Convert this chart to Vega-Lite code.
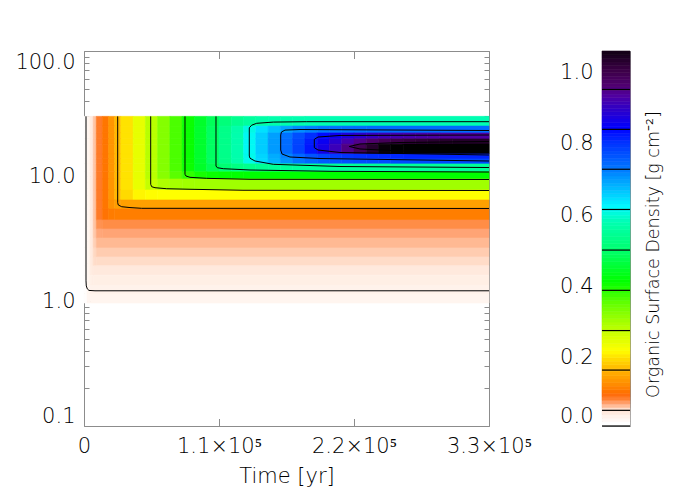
{
"$schema": "https://vega.github.io/schema/vega-lite/v6.json",
"background": "white",
"padding": {"left": 14, "top": 50, "right": 5, "bottom": 5},
"config": {
 "view": {"stroke": "#8c8c8c", "strokeWidth": 1},
 "font": "DejaVu Sans",
 "axis": {"labelFont": "DejaVu Sans", "labelFontSize": 21, "labelFontWeight": 200, "labelColor": "#000000", "titleFont": "DejaVu Sans", "titleFontSize": 21, "titleFontWeight": 200, "titleColor": "#000000", "tickColor": "#8c8c8c", "tickWidth": 1, "grid": false}
},
"datasets": {
 "cols": [
  {"c":1,"t0":0,"t1":2500},{"c":2,"t0":2500,"t1":5000},{"c":3,"t0":5000,"t1":7500},{"c":4,"t0":7500,"t1":10000},{"c":5,"t0":10000,"t1":15000},{"c":6,"t0":15000,"t1":20000},{"c":7,"t0":20000,"t1":25000},{"c":8,"t0":25000,"t1":30000},{"c":9,"t0":30000,"t1":40000},{"c":10,"t0":40000,"t1":50000},{"c":11,"t0":50000,"t1":60000},{"c":12,"t0":60000,"t1":70000},{"c":13,"t0":70000,"t1":80000},{"c":14,"t0":80000,"t1":90000},{"c":15,"t0":90000,"t1":100000},{"c":16,"t0":100000,"t1":110000},{"c":17,"t0":110000,"t1":120000},{"c":18,"t0":120000,"t1":130000},{"c":19,"t0":130000,"t1":140000},{"c":20,"t0":140000,"t1":150000},{"c":21,"t0":150000,"t1":160000},{"c":22,"t0":160000,"t1":170000},{"c":23,"t0":170000,"t1":180000},{"c":24,"t0":180000,"t1":190000},{"c":25,"t0":190000,"t1":200000},{"c":26,"t0":200000,"t1":210000},{"c":27,"t0":210000,"t1":220000},{"c":28,"t0":220000,"t1":230000},{"c":29,"t0":230000,"t1":240000},{"c":30,"t0":240000,"t1":250000},{"c":31,"t0":250000,"t1":260000},{"c":32,"t0":260000,"t1":270000},{"c":33,"t0":270000,"t1":280000},{"c":34,"t0":280000,"t1":290000},{"c":35,"t0":290000,"t1":300000},{"c":36,"t0":300000,"t1":310000},{"c":37,"t0":310000,"t1":320000},{"c":38,"t0":320000,"t1":330000},
  {"c":103,"t0":5000,"t1":330000},{"c":104,"t0":7500,"t1":330000},{"c":105,"t0":10000,"t1":330000},{"c":106,"t0":15000,"t1":330000},{"c":108,"t0":25000,"t1":330000},{"c":109,"t0":30000,"t1":330000},{"c":112,"t0":60000,"t1":330000},{"c":115,"t0":90000,"t1":330000},{"c":119,"t0":130000,"t1":330000},{"c":123,"t0":170000,"t1":330000},{"c":124,"t0":180000,"t1":330000},{"c":129,"t0":230000,"t1":330000},{"c":130,"t0":240000,"t1":330000},{"c":131,"t0":250000,"t1":330000},{"c":132,"t0":260000,"t1":330000},{"c":135,"t0":290000,"t1":330000},{"c":136,"t0":300000,"t1":330000}
 ],
 "rows": [
  {"w":"a","r0":25.1,"r1":30},{"w":"b","r0":22.1,"r1":25.1},{"w":"c","r0":19.8,"r1":22.1},{"w":"d","r0":18.0,"r1":19.8},{"w":"e","r0":15.0,"r1":18.0},{"w":"f","r0":13.7,"r1":15.0},{"w":"g","r0":12.5,"r1":13.7},{"w":"h","r0":10.8,"r1":12.5},{"w":"i","r0":9.46,"r1":10.8},{"w":"j","r0":7.73,"r1":9.46},{"w":"k","r0":6.43,"r1":7.73},{"w":"l","r0":5.45,"r1":6.43},{"w":"m","r0":4.45,"r1":5.45},{"w":"n","r0":3.77,"r1":4.45},{"w":"o","r0":3.19,"r1":3.77},{"w":"p","r0":2.66,"r1":3.19},{"w":"q","r0":2.25,"r1":2.66},{"w":"r","r0":1.91,"r1":2.25},{"w":"s","r0":1.61,"r1":1.91},{"w":"t","r0":1.34,"r1":1.61},{"w":"u","r0":1.14,"r1":1.34},{"w":"v","r0":0.964,"r1":1.14}
 ],
 "cells": [
  {"c":1,"w":"a","v":0.012},{"c":2,"w":"a","v":0.025},{"c":3,"w":"a","v":0.04},{"c":4,"w":"a","v":0.058},{"c":5,"w":"a","v":0.082},{"c":6,"w":"a","v":0.102},{"c":7,"w":"a","v":0.13},{"c":8,"w":"a","v":0.165},{"c":9,"w":"a","v":0.196},{"c":10,"w":"a","v":0.238},{"c":11,"w":"a","v":0.28},{"c":12,"w":"a","v":0.322},{"c":13,"w":"a","v":0.363},{"c":14,"w":"a","v":0.404},{"c":15,"w":"a","v":0.444},{"c":16,"w":"a","v":0.481},{"c":17,"w":"a","v":0.512},{"c":18,"w":"a","v":0.536},{"c":19,"w":"a","v":0.553},{"c":20,"w":"a","v":0.563},{"c":21,"w":"a","v":0.569},{"c":22,"w":"a","v":0.572},{"c":23,"w":"a","v":0.574},{"c":124,"w":"a","v":0.576},
  {"c":1,"w":"b","v":0.012},{"c":2,"w":"b","v":0.025},{"c":3,"w":"b","v":0.04},{"c":4,"w":"b","v":0.058},{"c":5,"w":"b","v":0.082},{"c":6,"w":"b","v":0.102},{"c":7,"w":"b","v":0.13},{"c":8,"w":"b","v":0.165},{"c":9,"w":"b","v":0.196},{"c":10,"w":"b","v":0.238},{"c":11,"w":"b","v":0.28},{"c":12,"w":"b","v":0.322},{"c":13,"w":"b","v":0.363},{"c":14,"w":"b","v":0.405},{"c":15,"w":"b","v":0.447},{"c":16,"w":"b","v":0.488},{"c":17,"w":"b","v":0.528},{"c":18,"w":"b","v":0.568},{"c":19,"w":"b","v":0.605},{"c":20,"w":"b","v":0.639},{"c":21,"w":"b","v":0.667},{"c":22,"w":"b","v":0.69},{"c":23,"w":"b","v":0.707},{"c":24,"w":"b","v":0.718},{"c":25,"w":"b","v":0.726},{"c":26,"w":"b","v":0.731},{"c":27,"w":"b","v":0.734},{"c":28,"w":"b","v":0.736},{"c":129,"w":"b","v":0.738},
  {"c":1,"w":"c","v":0.012},{"c":2,"w":"c","v":0.025},{"c":3,"w":"c","v":0.04},{"c":4,"w":"c","v":0.058},{"c":5,"w":"c","v":0.082},{"c":6,"w":"c","v":0.102},{"c":7,"w":"c","v":0.13},{"c":8,"w":"c","v":0.165},{"c":9,"w":"c","v":0.196},{"c":10,"w":"c","v":0.238},{"c":11,"w":"c","v":0.28},{"c":12,"w":"c","v":0.322},{"c":13,"w":"c","v":0.363},{"c":14,"w":"c","v":0.405},{"c":15,"w":"c","v":0.447},{"c":16,"w":"c","v":0.489},{"c":17,"w":"c","v":0.53},{"c":18,"w":"c","v":0.572},{"c":19,"w":"c","v":0.613},{"c":20,"w":"c","v":0.654},{"c":21,"w":"c","v":0.693},{"c":22,"w":"c","v":0.732},{"c":23,"w":"c","v":0.769},{"c":24,"w":"c","v":0.801},{"c":25,"w":"c","v":0.831},{"c":26,"w":"c","v":0.856},{"c":27,"w":"c","v":0.876},{"c":28,"w":"c","v":0.891},{"c":29,"w":"c","v":0.902},{"c":30,"w":"c","v":0.911},{"c":31,"w":"c","v":0.916},{"c":32,"w":"c","v":0.92},{"c":33,"w":"c","v":0.923},{"c":34,"w":"c","v":0.925},{"c":135,"w":"c","v":0.928},
  {"c":1,"w":"d","v":0.012},{"c":2,"w":"d","v":0.025},{"c":3,"w":"d","v":0.04},{"c":4,"w":"d","v":0.058},{"c":5,"w":"d","v":0.082},{"c":6,"w":"d","v":0.102},{"c":7,"w":"d","v":0.13},{"c":8,"w":"d","v":0.165},{"c":9,"w":"d","v":0.196},{"c":10,"w":"d","v":0.238},{"c":11,"w":"d","v":0.28},{"c":12,"w":"d","v":0.322},{"c":13,"w":"d","v":0.363},{"c":14,"w":"d","v":0.405},{"c":15,"w":"d","v":0.447},{"c":16,"w":"d","v":0.489},{"c":17,"w":"d","v":0.53},{"c":18,"w":"d","v":0.572},{"c":19,"w":"d","v":0.614},{"c":20,"w":"d","v":0.655},{"c":21,"w":"d","v":0.696},{"c":22,"w":"d","v":0.737},{"c":23,"w":"d","v":0.777},{"c":24,"w":"d","v":0.815},{"c":25,"w":"d","v":0.851},{"c":26,"w":"d","v":0.886},{"c":27,"w":"d","v":0.917},{"c":28,"w":"d","v":0.943},{"c":29,"w":"d","v":0.966},{"c":30,"w":"d","v":0.984},{"c":31,"w":"d","v":0.999},{"c":32,"w":"d","v":1.01},{"c":33,"w":"d","v":1.018},{"c":34,"w":"d","v":1.024},{"c":35,"w":"d","v":1.028},{"c":136,"w":"d","v":1.033},
  {"c":1,"w":"e","v":0.012},{"c":2,"w":"e","v":0.025},{"c":3,"w":"e","v":0.04},{"c":4,"w":"e","v":0.058},{"c":5,"w":"e","v":0.082},{"c":6,"w":"e","v":0.102},{"c":7,"w":"e","v":0.13},{"c":8,"w":"e","v":0.165},{"c":9,"w":"e","v":0.196},{"c":10,"w":"e","v":0.238},{"c":11,"w":"e","v":0.28},{"c":12,"w":"e","v":0.322},{"c":13,"w":"e","v":0.363},{"c":14,"w":"e","v":0.405},{"c":15,"w":"e","v":0.447},{"c":16,"w":"e","v":0.489},{"c":17,"w":"e","v":0.53},{"c":18,"w":"e","v":0.572},{"c":19,"w":"e","v":0.614},{"c":20,"w":"e","v":0.656},{"c":21,"w":"e","v":0.697},{"c":22,"w":"e","v":0.739},{"c":23,"w":"e","v":0.781},{"c":24,"w":"e","v":0.822},{"c":25,"w":"e","v":0.864},{"c":26,"w":"e","v":0.906},{"c":27,"w":"e","v":0.948},{"c":28,"w":"e","v":0.989},{"c":29,"w":"e","v":1.031},{"c":30,"w":"e","v":1.073},{"c":31,"w":"e","v":1.115},{"c":132,"w":"e","v":1.3},
  {"c":1,"w":"f","v":0.012},{"c":2,"w":"f","v":0.025},{"c":3,"w":"f","v":0.04},{"c":4,"w":"f","v":0.058},{"c":5,"w":"f","v":0.082},{"c":6,"w":"f","v":0.102},{"c":7,"w":"f","v":0.13},{"c":8,"w":"f","v":0.165},{"c":9,"w":"f","v":0.196},{"c":10,"w":"f","v":0.238},{"c":11,"w":"f","v":0.28},{"c":12,"w":"f","v":0.322},{"c":13,"w":"f","v":0.363},{"c":14,"w":"f","v":0.405},{"c":15,"w":"f","v":0.447},{"c":16,"w":"f","v":0.489},{"c":17,"w":"f","v":0.529},{"c":18,"w":"f","v":0.57},{"c":19,"w":"f","v":0.61},{"c":20,"w":"f","v":0.649},{"c":21,"w":"f","v":0.683},{"c":22,"w":"f","v":0.715},{"c":23,"w":"f","v":0.741},{"c":24,"w":"f","v":0.761},{"c":25,"w":"f","v":0.777},{"c":26,"w":"f","v":0.788},{"c":27,"w":"f","v":0.795},{"c":28,"w":"f","v":0.8},{"c":29,"w":"f","v":0.803},{"c":30,"w":"f","v":0.806},{"c":31,"w":"f","v":0.807},{"c":132,"w":"f","v":0.809},
  {"c":1,"w":"g","v":0.012},{"c":2,"w":"g","v":0.025},{"c":3,"w":"g","v":0.04},{"c":4,"w":"g","v":0.058},{"c":5,"w":"g","v":0.082},{"c":6,"w":"g","v":0.102},{"c":7,"w":"g","v":0.13},{"c":8,"w":"g","v":0.165},{"c":9,"w":"g","v":0.196},{"c":10,"w":"g","v":0.238},{"c":11,"w":"g","v":0.28},{"c":12,"w":"g","v":0.322},{"c":13,"w":"g","v":0.363},{"c":14,"w":"g","v":0.405},{"c":15,"w":"g","v":0.447},{"c":16,"w":"g","v":0.489},{"c":17,"w":"g","v":0.529},{"c":18,"w":"g","v":0.569},{"c":19,"w":"g","v":0.608},{"c":20,"w":"g","v":0.645},{"c":21,"w":"g","v":0.677},{"c":22,"w":"g","v":0.704},{"c":23,"w":"g","v":0.726},{"c":24,"w":"g","v":0.742},{"c":25,"w":"g","v":0.753},{"c":26,"w":"g","v":0.761},{"c":27,"w":"g","v":0.765},{"c":28,"w":"g","v":0.769},{"c":29,"w":"g","v":0.771},{"c":30,"w":"g","v":0.772},{"c":131,"w":"g","v":0.774},
  {"c":1,"w":"h","v":0.012},{"c":2,"w":"h","v":0.025},{"c":3,"w":"h","v":0.04},{"c":4,"w":"h","v":0.058},{"c":5,"w":"h","v":0.082},{"c":6,"w":"h","v":0.102},{"c":7,"w":"h","v":0.13},{"c":8,"w":"h","v":0.165},{"c":9,"w":"h","v":0.196},{"c":10,"w":"h","v":0.238},{"c":11,"w":"h","v":0.28},{"c":12,"w":"h","v":0.322},{"c":13,"w":"h","v":0.362},{"c":14,"w":"h","v":0.403},{"c":15,"w":"h","v":0.442},{"c":16,"w":"h","v":0.476},{"c":17,"w":"h","v":0.503},{"c":18,"w":"h","v":0.522},{"c":19,"w":"h","v":0.534},{"c":20,"w":"h","v":0.541},{"c":21,"w":"h","v":0.545},{"c":22,"w":"h","v":0.547},{"c":123,"w":"h","v":0.549},
  {"c":1,"w":"i","v":0.012},{"c":2,"w":"i","v":0.025},{"c":3,"w":"i","v":0.04},{"c":4,"w":"i","v":0.058},{"c":5,"w":"i","v":0.082},{"c":6,"w":"i","v":0.102},{"c":7,"w":"i","v":0.13},{"c":8,"w":"i","v":0.165},{"c":9,"w":"i","v":0.196},{"c":10,"w":"i","v":0.238},{"c":11,"w":"i","v":0.279},{"c":12,"w":"i","v":0.319},{"c":13,"w":"i","v":0.354},{"c":14,"w":"i","v":0.38},{"c":15,"w":"i","v":0.396},{"c":16,"w":"i","v":0.404},{"c":17,"w":"i","v":0.407},{"c":18,"w":"i","v":0.409},{"c":119,"w":"i","v":0.41},
  {"c":1,"w":"j","v":0.012},{"c":2,"w":"j","v":0.025},{"c":3,"w":"j","v":0.04},{"c":4,"w":"j","v":0.058},{"c":5,"w":"j","v":0.082},{"c":6,"w":"j","v":0.102},{"c":7,"w":"j","v":0.13},{"c":8,"w":"j","v":0.165},{"c":9,"w":"j","v":0.196},{"c":10,"w":"j","v":0.236},{"c":11,"w":"j","v":0.269},{"c":12,"w":"j","v":0.288},{"c":13,"w":"j","v":0.296},{"c":14,"w":"j","v":0.299},{"c":115,"w":"j","v":0.3},
  {"c":1,"w":"k","v":0.012},{"c":2,"w":"k","v":0.025},{"c":3,"w":"k","v":0.04},{"c":4,"w":"k","v":0.058},{"c":5,"w":"k","v":0.082},{"c":6,"w":"k","v":0.102},{"c":7,"w":"k","v":0.13},{"c":8,"w":"k","v":0.164},{"c":9,"w":"k","v":0.19},{"c":10,"w":"k","v":0.209},{"c":11,"w":"k","v":0.214},{"c":112,"w":"k","v":0.215},
  {"c":1,"w":"l","v":0.012},{"c":2,"w":"l","v":0.025},{"c":3,"w":"l","v":0.04},{"c":4,"w":"l","v":0.058},{"c":5,"w":"l","v":0.082},{"c":6,"w":"l","v":0.102},{"c":7,"w":"l","v":0.125},{"c":8,"w":"l","v":0.138},{"c":109,"w":"l","v":0.14},
  {"c":1,"w":"m","v":0.012},{"c":2,"w":"m","v":0.025},{"c":3,"w":"m","v":0.04},{"c":4,"w":"m","v":0.058},{"c":5,"w":"m","v":0.082},{"c":6,"w":"m","v":0.098},{"c":7,"w":"m","v":0.107},{"c":108,"w":"m","v":0.108},
  {"c":1,"w":"n","v":0.012},{"c":2,"w":"n","v":0.025},{"c":3,"w":"n","v":0.04},{"c":4,"w":"n","v":0.058},{"c":5,"w":"n","v":0.073},{"c":106,"w":"n","v":0.075},
  {"c":1,"w":"o","v":0.012},{"c":2,"w":"o","v":0.025},{"c":3,"w":"o","v":0.04},{"c":4,"w":"o","v":0.057},{"c":5,"w":"o","v":0.066},{"c":106,"w":"o","v":0.067},
  {"c":1,"w":"p","v":0.012},{"c":2,"w":"p","v":0.025},{"c":3,"w":"p","v":0.04},{"c":4,"w":"p","v":0.055},{"c":105,"w":"p","v":0.061},
  {"c":1,"w":"q","v":0.012},{"c":2,"w":"q","v":0.025},{"c":3,"w":"q","v":0.04},{"c":4,"w":"q","v":0.053},{"c":105,"w":"q","v":0.056},
  {"c":1,"w":"r","v":0.012},{"c":2,"w":"r","v":0.025},{"c":3,"w":"r","v":0.04},{"c":4,"w":"r","v":0.051},{"c":105,"w":"r","v":0.052},
  {"c":1,"w":"s","v":0.012},{"c":2,"w":"s","v":0.025},{"c":3,"w":"s","v":0.038},{"c":104,"w":"s","v":0.041},
  {"c":1,"w":"t","v":0.012},{"c":2,"w":"t","v":0.025},{"c":3,"w":"t","v":0.034},{"c":104,"w":"t","v":0.035},
  {"c":1,"w":"u","v":0.012},{"c":2,"w":"u","v":0.025},{"c":103,"w":"u","v":0.031},
  {"c":1,"w":"v","v":0.012},{"c":2,"w":"v","v":0.024},{"c":103,"w":"v","v":0.026}
 ],
 "lines": [
  {"lev":1,"o":1,"t":1630,"r":30},{"lev":1,"o":2,"t":1630,"r":1.45},{"lev":1,"o":3,"t":1870,"r":1.32},{"lev":1,"o":4,"t":2690,"r":1.25},{"lev":1,"o":5,"t":4070,"r":1.215},{"lev":1,"o":6,"t":8960,"r":1.207},{"lev":1,"o":7,"t":330000,"r":1.207},
  {"lev":2,"o":1,"t":27460,"r":30},{"lev":2,"o":2,"t":27460,"r":6.11},{"lev":2,"o":3,"t":27950,"r":5.86},{"lev":2,"o":4,"t":30720,"r":5.68},{"lev":2,"o":5,"t":37480,"r":5.59},{"lev":2,"o":6,"t":47010,"r":5.515},{"lev":2,"o":7,"t":330000,"r":5.5},
  {"lev":3,"o":1,"t":54350,"r":30},{"lev":3,"o":2,"t":54350,"r":8.58},{"lev":3,"o":3,"t":55160,"r":8.21},{"lev":3,"o":4,"t":57850,"r":8.06},{"lev":3,"o":5,"t":67380,"r":7.91},{"lev":3,"o":6,"t":86370,"r":7.83},{"lev":3,"o":7,"t":129550,"r":7.69},{"lev":3,"o":8,"t":330000,"r":7.66},
  {"lev":4,"o":1,"t":82290,"r":30},{"lev":4,"o":2,"t":82290,"r":10.32},{"lev":4,"o":3,"t":83110,"r":10.0},{"lev":4,"o":4,"t":86370,"r":9.76},{"lev":4,"o":5,"t":99980,"r":9.58},{"lev":4,"o":6,"t":135260,"r":9.41},{"lev":4,"o":7,"t":330000,"r":9.38},
  {"lev":5,"o":1,"t":107550,"r":30},{"lev":5,"o":2,"t":107550,"r":12.02},{"lev":5,"o":3,"t":108610,"r":11.65},{"lev":5,"o":4,"t":113500,"r":11.44},{"lev":5,"o":5,"t":135260,"r":11.17},{"lev":5,"o":6,"t":200440,"r":10.9},{"lev":5,"o":7,"t":330000,"r":10.76},
  {"lev":6,"o":1,"t":330000,"r":27.19},{"lev":6,"o":2,"t":181450,"r":27.19},{"lev":6,"o":3,"t":154240,"r":27.0},{"lev":6,"o":4,"t":140720,"r":26.4},{"lev":6,"o":5,"t":136640,"r":25.5},{"lev":6,"o":6,"t":134680,"r":24.3},{"lev":6,"o":7,"t":134680,"r":14.45},{"lev":6,"o":8,"t":135260,"r":13.87},{"lev":6,"o":9,"t":139330,"r":13.18},{"lev":6,"o":10,"t":154240,"r":12.4},{"lev":6,"o":11,"t":208590,"r":11.91},{"lev":6,"o":12,"t":330000,"r":11.69},
  {"lev":7,"o":1,"t":330000,"r":23.12},{"lev":7,"o":2,"t":176000,"r":23.55},{"lev":7,"o":3,"t":163780,"r":23.3},{"lev":7,"o":4,"t":160920,"r":22.5},{"lev":7,"o":5,"t":160270,"r":21.3},{"lev":7,"o":6,"t":160270,"r":16.14},{"lev":7,"o":7,"t":161330,"r":15.0},{"lev":7,"o":8,"t":167850,"r":14.19},{"lev":7,"o":9,"t":192290,"r":13.8},{"lev":7,"o":10,"t":330000,"r":13.18},
  {"lev":8,"o":1,"t":330000,"r":21.28},{"lev":8,"o":2,"t":208590,"r":21.1},{"lev":8,"o":3,"t":190660,"r":20.5},{"lev":8,"o":4,"t":187650,"r":19.64},{"lev":8,"o":5,"t":187650,"r":16.87},{"lev":8,"o":6,"t":190660,"r":16.14},{"lev":8,"o":7,"t":208590,"r":15.42},{"lev":8,"o":8,"t":330000,"r":14.72},
  {"lev":9,"o":1,"t":330000,"r":18.88},{"lev":9,"o":2,"t":257470,"r":18.54},{"lev":9,"o":3,"t":224880,"r":18.03},{"lev":9,"o":4,"t":216170,"r":17.22},{"lev":9,"o":5,"t":224880,"r":16.45},{"lev":9,"o":6,"t":257470,"r":15.85},{"lev":9,"o":7,"t":330000,"r":15.42}
 ],
 "cbar": [
  {"a":0.008,"b":0.02},{"a":0.02,"b":0.03},{"a":0.03,"b":0.04},{"a":0.04,"b":0.05},{"a":0.05,"b":0.06},{"a":0.06,"b":0.07},{"a":0.07,"b":0.08},{"a":0.08,"b":0.09},{"a":0.09,"b":0.1},{"a":0.1,"b":0.11},{"a":0.11,"b":0.12},{"a":0.12,"b":0.13},{"a":0.13,"b":0.14},{"a":0.14,"b":0.15},{"a":0.15,"b":0.16},{"a":0.16,"b":0.17},{"a":0.17,"b":0.18},{"a":0.18,"b":0.19},{"a":0.19,"b":0.2},{"a":0.2,"b":0.21},{"a":0.21,"b":0.22},{"a":0.22,"b":0.23},{"a":0.23,"b":0.24},{"a":0.24,"b":0.25},{"a":0.25,"b":0.26},{"a":0.26,"b":0.27},{"a":0.27,"b":0.28},{"a":0.28,"b":0.29},{"a":0.29,"b":0.3},{"a":0.3,"b":0.31},{"a":0.31,"b":0.32},{"a":0.32,"b":0.33},{"a":0.33,"b":0.34},{"a":0.34,"b":0.35},{"a":0.35,"b":0.36},{"a":0.36,"b":0.37},{"a":0.37,"b":0.38},{"a":0.38,"b":0.39},{"a":0.39,"b":0.4},{"a":0.4,"b":0.41},{"a":0.41,"b":0.42},{"a":0.42,"b":0.43},{"a":0.43,"b":0.44},{"a":0.44,"b":0.45},{"a":0.45,"b":0.46},{"a":0.46,"b":0.47},{"a":0.47,"b":0.48},{"a":0.48,"b":0.49},{"a":0.49,"b":0.5},{"a":0.5,"b":0.51},{"a":0.51,"b":0.52},{"a":0.52,"b":0.53},{"a":0.53,"b":0.54},{"a":0.54,"b":0.55},{"a":0.55,"b":0.56},{"a":0.56,"b":0.57},{"a":0.57,"b":0.58},{"a":0.58,"b":0.59},{"a":0.59,"b":0.6},{"a":0.6,"b":0.61},{"a":0.61,"b":0.62},{"a":0.62,"b":0.63},{"a":0.63,"b":0.64},{"a":0.64,"b":0.65},{"a":0.65,"b":0.66},{"a":0.66,"b":0.67},{"a":0.67,"b":0.68},{"a":0.68,"b":0.69},{"a":0.69,"b":0.7},{"a":0.7,"b":0.71},{"a":0.71,"b":0.72},{"a":0.72,"b":0.73},{"a":0.73,"b":0.74},{"a":0.74,"b":0.75},{"a":0.75,"b":0.76},{"a":0.76,"b":0.77},{"a":0.77,"b":0.78},{"a":0.78,"b":0.79},{"a":0.79,"b":0.8},{"a":0.8,"b":0.81},{"a":0.81,"b":0.82},{"a":0.82,"b":0.83},{"a":0.83,"b":0.84},{"a":0.84,"b":0.85},{"a":0.85,"b":0.86},{"a":0.86,"b":0.87},{"a":0.87,"b":0.88},{"a":0.88,"b":0.89},{"a":0.89,"b":0.9},{"a":0.9,"b":0.91},{"a":0.91,"b":0.92},{"a":0.92,"b":0.93},{"a":0.93,"b":0.94},{"a":0.94,"b":0.95},{"a":0.95,"b":0.96},{"a":0.96,"b":0.97},{"a":0.97,"b":0.98},{"a":0.98,"b":0.99},{"a":0.99,"b":1.0},{"a":1.0,"b":1.01},{"a":1.01,"b":1.02},{"a":1.02,"b":1.03},{"a":1.03,"b":1.04},{"a":1.04,"b":1.05},{"a":1.05,"b":1.061}
 ],
 "levels": [
  {"lv":0.008},{"lv":0.052},{"lv":0.165},{"lv":0.276},{"lv":0.389},{"lv":0.502},{"lv":0.616},{"lv":0.729},{"lv":0.841},{"lv":0.953}
 ]
},
"bounds": "flush",
"spacing": 113,
"hconcat": [
 {
  "width": 405,
  "height": 375,
  "layer": [
   {
    "data": {"name": "cells"},
    "transform": [
     {"lookup": "c", "from": {"data": {"name": "cols"}, "key": "c", "fields": ["t0", "t1"]}},
     {"lookup": "w", "from": {"data": {"name": "rows"}, "key": "w", "fields": ["r0", "r1"]}}
    ],
    "mark": {"type": "rect", "strokeWidth": 0.6},
    "encoding": {
     "x": {"field": "t0", "type": "quantitative", "scale": {"domain": [0, 330000], "nice": false, "zero": false},
      "axis": {"orient": "bottom", "values": [0, 110000, 220000, 330000], "labelExpr": "datum.value == 0 ? '0' : format(datum.value / 100000, '.1f') + '×10⁵'", "ticks": false, "domain": false, "labelPadding": 9, "labelFlush": false, "title": "Time [yr]", "titlePadding": 9}},
     "x2": {"field": "t1"},
     "y": {"field": "r0", "type": "quantitative", "scale": {"type": "log", "domain": [0.1, 100], "nice": false},
      "axis": {"orient": "left", "values": [0.1, 1, 10, 100], "format": ".1f", "ticks": false, "domain": false, "labelPadding": 9, "labelFlush": true, "title": null}},
     "y2": {"field": "r1"},
     "color": {"field": "v", "type": "quantitative", "legend": null,
      "scale": {"type": "linear", "interpolate": "rgb", "clamp": true,
       "domain": [0.008, 0.03, 0.045, 0.052, 0.06, 0.068, 0.076, 0.088, 0.1, 0.12, 0.14, 0.165, 0.2, 0.215, 0.26, 0.3, 0.35, 0.41, 0.5, 0.575, 0.62, 0.68, 0.725, 0.8, 0.84, 0.93, 0.96, 1.0, 1.035, 1.061, 1.1],
       "range": ["#ffffff", "#fff3ec", "#ffe6d8", "#ffdcc8", "#ffbc98", "#ffa070", "#ff8a40", "#ff6c10", "#ff7400", "#ff8c00", "#ffa000", "#ffb800", "#ffe800", "#ffff00", "#d0ff00", "#a0ff00", "#60ff00", "#00ff00", "#00ff70", "#00ffb0", "#00f8ff", "#00b0ff", "#0078ff", "#0030ff", "#0000ff", "#5000a0", "#500070", "#3c0048", "#220028", "#0a000c", "#000000"]}},
     "stroke": {"field": "v", "type": "quantitative", "legend": null,
      "scale": {"type": "linear", "interpolate": "rgb", "clamp": true,
       "domain": [0.008, 0.03, 0.045, 0.052, 0.06, 0.068, 0.076, 0.088, 0.1, 0.12, 0.14, 0.165, 0.2, 0.215, 0.26, 0.3, 0.35, 0.41, 0.5, 0.575, 0.62, 0.68, 0.725, 0.8, 0.84, 0.93, 0.96, 1.0, 1.035, 1.061, 1.1],
       "range": ["#ffffff", "#fff3ec", "#ffe6d8", "#ffdcc8", "#ffbc98", "#ffa070", "#ff8a40", "#ff6c10", "#ff7400", "#ff8c00", "#ffa000", "#ffb800", "#ffe800", "#ffff00", "#d0ff00", "#a0ff00", "#60ff00", "#00ff00", "#00ff70", "#00ffb0", "#00f8ff", "#00b0ff", "#0078ff", "#0030ff", "#0000ff", "#5000a0", "#500070", "#3c0048", "#220028", "#0a000c", "#000000"]}}
    }
   },
   {
    "data": {"name": "lines"},
    "mark": {"type": "line", "color": "#000000", "strokeWidth": 1},
    "encoding": {
     "x": {"field": "t", "type": "quantitative", "scale": {"domain": [0, 330000], "nice": false, "zero": false},
      "axis": {"orient": "bottom", "values": [0, 110000, 220000, 330000], "labels": false, "domain": false, "tickSize": -7.5, "title": null}},
     "y": {"field": "r", "type": "quantitative", "scale": {"type": "log", "domain": [0.1, 100], "nice": false},
      "axis": {"orient": "left", "values": [0.1, 1, 10, 100], "labels": false, "domain": false, "tickSize": -8, "title": null}},
     "detail": {"field": "lev", "type": "nominal"},
     "order": {"field": "o", "type": "quantitative"}
    }
   },
   {
    "data": {"name": "lines"},
    "mark": {"type": "point", "opacity": 0},
    "encoding": {
     "x": {"field": "t", "type": "quantitative", "scale": {"domain": [0, 330000], "nice": false, "zero": false},
      "axis": {"orient": "top", "values": [0, 110000, 220000, 330000], "labels": false, "domain": false, "tickSize": -7.5, "title": null}},
     "y": {"field": "r", "type": "quantitative", "scale": {"type": "log", "domain": [0.1, 100], "nice": false},
      "axis": {"orient": "right", "values": [0.1, 1, 10, 100], "labels": false, "domain": false, "tickSize": -8, "title": null}}
    }
   },
   {
    "data": {"name": "lines"},
    "mark": {"type": "point", "opacity": 0},
    "encoding": {
     "x": {"field": "t", "type": "quantitative", "scale": {"domain": [0, 330000], "nice": false, "zero": false}, "axis": null},
     "y": {"field": "r", "type": "quantitative", "scale": {"type": "log", "domain": [0.1, 100], "nice": false},
      "axis": {"orient": "left", "values": [0.2, 0.3, 0.4, 0.5, 0.6, 0.7, 0.8, 0.9, 2, 3, 4, 5, 6, 7, 8, 9, 20, 30, 40, 50, 60, 70, 80, 90], "labels": false, "domain": false, "tickSize": -5, "title": null}}
    }
   },
   {
    "data": {"name": "lines"},
    "mark": {"type": "point", "opacity": 0},
    "encoding": {
     "x": {"field": "t", "type": "quantitative", "scale": {"domain": [0, 330000], "nice": false, "zero": false}, "axis": null},
     "y": {"field": "r", "type": "quantitative", "scale": {"type": "log", "domain": [0.1, 100], "nice": false},
      "axis": {"orient": "right", "values": [0.2, 0.3, 0.4, 0.5, 0.6, 0.7, 0.8, 0.9, 2, 3, 4, 5, 6, 7, 8, 9, 20, 30, 40, 50, 60, 70, 80, 90], "labels": false, "domain": false, "tickSize": -5, "title": null}}
    }
   }
  ],
  "resolve": {"axis": {"x": "independent", "y": "independent"}}
 },
 {
  "width": 28,
  "height": 375,
  "layer": [
   {
    "data": {"name": "cbar"},
    "mark": {"type": "rect", "strokeWidth": 0.6},
    "encoding": {
     "x": {"datum": 0, "type": "quantitative", "scale": {"domain": [0, 1], "nice": false, "zero": false}, "axis": null},
     "x2": {"datum": 1},
     "y": {"field": "a", "type": "quantitative", "scale": {"domain": [0.008, 1.061], "nice": false, "zero": false},
      "axis": {"orient": "left", "values": [0.008, 0.2, 0.4, 0.6, 0.8, 1.0], "format": ".1f", "ticks": false, "domain": false, "labelPadding": 9, "labelFlush": true, "title": null}},
     "y2": {"field": "b"},
     "color": {"field": "a", "type": "quantitative", "legend": null,
      "scale": {"type": "linear", "interpolate": "rgb", "clamp": true,
       "domain": [0.008, 0.03, 0.045, 0.052, 0.06, 0.068, 0.076, 0.088, 0.1, 0.12, 0.14, 0.165, 0.2, 0.215, 0.26, 0.3, 0.35, 0.41, 0.5, 0.575, 0.62, 0.68, 0.725, 0.8, 0.84, 0.93, 0.96, 1.0, 1.035, 1.061, 1.1],
       "range": ["#ffffff", "#fff3ec", "#ffe6d8", "#ffdcc8", "#ffbc98", "#ffa070", "#ff8a40", "#ff6c10", "#ff7400", "#ff8c00", "#ffa000", "#ffb800", "#ffe800", "#ffff00", "#d0ff00", "#a0ff00", "#60ff00", "#00ff00", "#00ff70", "#00ffb0", "#00f8ff", "#00b0ff", "#0078ff", "#0030ff", "#0000ff", "#5000a0", "#500070", "#3c0048", "#220028", "#0a000c", "#000000"]}},
     "stroke": {"field": "a", "type": "quantitative", "legend": null,
      "scale": {"type": "linear", "interpolate": "rgb", "clamp": true,
       "domain": [0.008, 0.03, 0.045, 0.052, 0.06, 0.068, 0.076, 0.088, 0.1, 0.12, 0.14, 0.165, 0.2, 0.215, 0.26, 0.3, 0.35, 0.41, 0.5, 0.575, 0.62, 0.68, 0.725, 0.8, 0.84, 0.93, 0.96, 1.0, 1.035, 1.061, 1.1],
       "range": ["#ffffff", "#fff3ec", "#ffe6d8", "#ffdcc8", "#ffbc98", "#ffa070", "#ff8a40", "#ff6c10", "#ff7400", "#ff8c00", "#ffa000", "#ffb800", "#ffe800", "#ffff00", "#d0ff00", "#a0ff00", "#60ff00", "#00ff00", "#00ff70", "#00ffb0", "#00f8ff", "#00b0ff", "#0078ff", "#0030ff", "#0000ff", "#5000a0", "#500070", "#3c0048", "#220028", "#0a000c", "#000000"]}}
    }
   },
   {
    "data": {"name": "levels"},
    "mark": {"type": "rule", "color": "#000000", "strokeWidth": 1.2},
    "encoding": {
     "x": {"datum": 0, "type": "quantitative", "scale": {"domain": [0, 1], "nice": false, "zero": false}, "axis": null},
     "x2": {"datum": 1},
     "y": {"field": "lv", "type": "quantitative", "scale": {"domain": [0.008, 1.061], "nice": false, "zero": false},
      "axis": {"orient": "right", "labels": false, "ticks": false, "domain": false, "title": "Organic Surface Density [g cm⁻²]", "titleAngle": 270, "titleBaseline": "top", "titleFontSize": 17.5, "titlePadding": 14, "titleY": 203}}
    }
   }
  ],
  "resolve": {"axis": {"y": "independent"}}
 }
]
}
